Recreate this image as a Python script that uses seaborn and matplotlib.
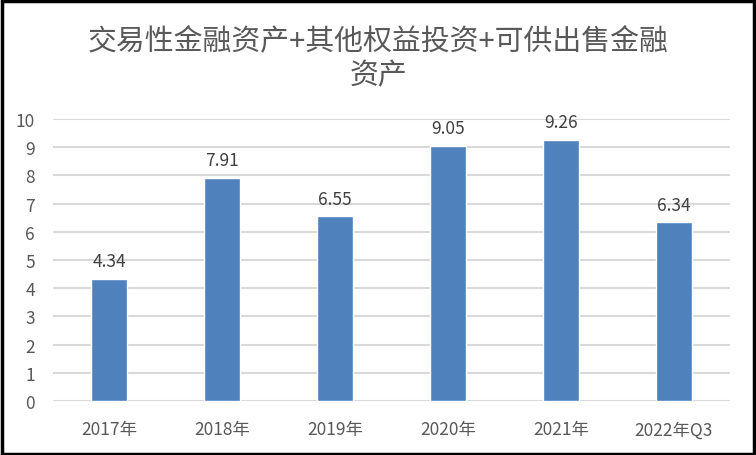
import matplotlib
matplotlib.use("Agg")
import matplotlib.pyplot as plt
import seaborn as sns
import pandas as pd
from matplotlib.patches import Rectangle

categories = ["2017年", "2018年", "2019年", "2020年", "2021年", "2022年Q3"]
values = [4.34, 7.91, 6.55, 9.05, 9.26, 6.34]
title = "交易性金融资产+其他权益投资+可供出售金融\n资产"

sns.set_theme(style="white")
plt.rcParams['font.family'] = ['Noto Sans CJK SC', 'DejaVu Sans']

df = pd.DataFrame({"cat": categories, "val": values})

fig = plt.figure(figsize=(7.56, 4.56), dpi=100)
ax = fig.add_axes([0.070, 0.1184, 0.896, 0.6184])

sns.barplot(data=df, x="cat", y="val", color="#4f81bd", width=0.32,
            saturation=1, ax=ax, zorder=3)

ax.set_ylim(0, 10)
ax.set_yticks(range(0, 11))
ax.yaxis.grid(True, color="#d9d9d9", linewidth=1.5, zorder=0)
ax.set_axisbelow(True)
for s in ax.spines.values():
    s.set_visible(False)
ax.set_xlabel("")
ax.set_ylabel("")
ax.tick_params(axis="both", length=0, labelsize=12.5, colors="#595959")
ax.tick_params(axis="x", pad=14)
ax.tick_params(axis="y", pad=13)

for i, v in enumerate(values):
    ax.text(i, v + 0.3, f"{v:.2f}", ha="center", va="bottom",
            fontsize=12.5, color="#404040")

fig.text(0.5, 0.87, title, ha="center", va="center", fontsize=20.8,
         color="#595959", linespacing=1.2, fontweight="light")

fig.patches.append(Rectangle((0.002, 0.003), 0.995, 0.993, transform=fig.transFigure,
                             fill=False, edgecolor="black", linewidth=2.5))

fig.savefig("out.png", dpi=100)
